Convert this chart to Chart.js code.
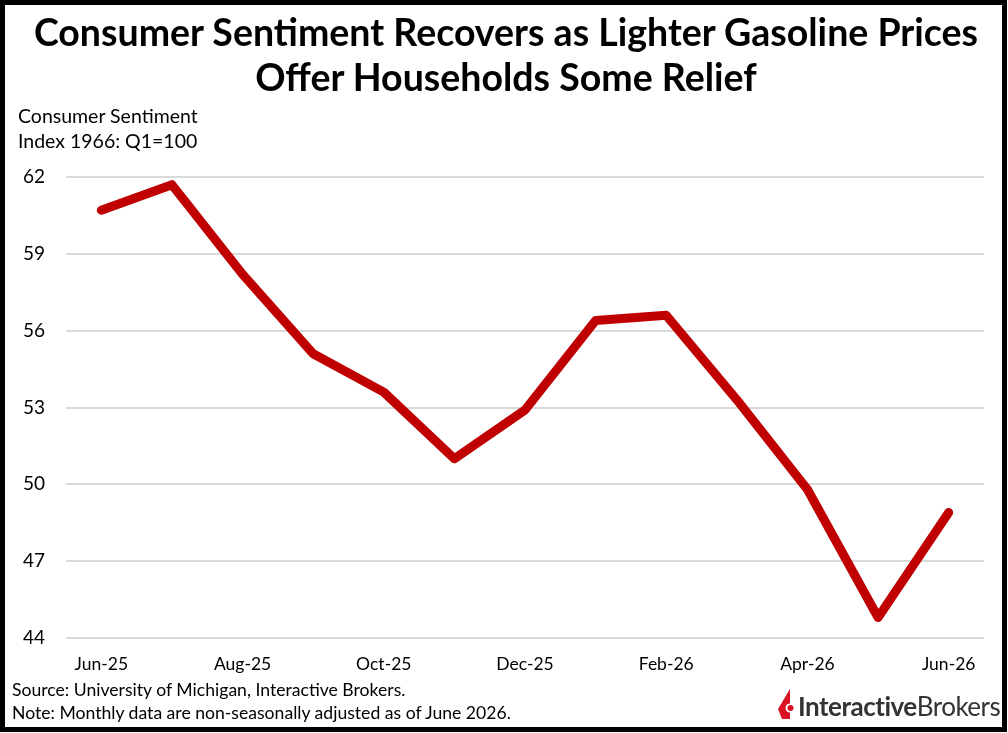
<!DOCTYPE html>
<html>
<head>
<meta charset="utf-8">
<script src="https://cdn.jsdelivr.net/npm/chart.js@4"></script>
<style>
  body { margin: 0; background: #fff; font-family: Lato, "Open Sans", sans-serif; }
  #frame { position: absolute; left: 0; top: 0; width: 1007px; height: 732px; box-sizing: border-box; border: 5px solid #000; }
  #wrap { position: absolute; left: 0; top: 0; width: 1008px; height: 733px; }
  .txt { position: absolute; color: #000; white-space: nowrap; }
  #title { left: 0; width: 1012px; top: 9px; text-align: center; font-weight: bold; font-size: 37.5px; line-height: 45px; }
  #ylab { left: 18px; top: 103px; font-size: 19.5px; line-height: 25px; }
  #foot { left: 12px; top: 678px; font-size: 17.6px; line-height: 23px; }
  #logo { left: 778px; top: 689px; font-size: 26px; color: #333; letter-spacing: -0.5px; }
  #logo svg { vertical-align: -3px; margin-right: 2px; }
</style>
</head>
<body>
<div id="wrap"><canvas id="chart1" width="1008" height="733"></canvas></div>
<div class="txt" id="title">Consumer Sentiment Recovers as Lighter Gasoline Prices<br>Offer Households Some Relief</div>
<div class="txt" id="ylab">Consumer Sentiment<br>Index 1966: Q1=100</div>
<div class="txt" id="foot">Source: University of Michigan, Interactive Brokers.<br>Note: Monthly data are non-seasonally adjusted as of June 2026.</div>
<div class="txt" id="logo"><svg width="18" height="30" viewBox="0 0 18 30"><polygon points="12,0 0,20 4,30 12,30" fill="#d81222"/><circle cx="12" cy="19" r="4.5" fill="#fff"/><circle cx="12.5" cy="19" r="3" fill="#d81222"/></svg><b>Interactive</b>Brokers</div>
<div id="frame"></div>
<script>
// University of Michigan consumer sentiment, monthly
const months = ["Jun-25", "Jul-25", "Aug-25", "Sep-25", "Oct-25", "Nov-25", "Dec-25",
                "Jan-26", "Feb-26", "Mar-26", "Apr-26", "May-26", "Jun-26"];
const sentiment = [60.7, 61.7, 58.2, 55.1, 53.6, 51.0, 52.9, 56.4, 56.6, 53.3, 49.8, 44.8, 48.9];
const yMin = 44;
const yMax = 62;
const yStep = 3;

new Chart("chart1", {
    type: "line",
    data: {
        labels: months,
        datasets: [{
            data: sentiment,
            borderColor: "#c00000",
            backgroundColor: "rgba(0,0,0,0)",
            borderWidth: 9,
            borderCapStyle: "round",
            borderJoinStyle: "round",
            pointRadius: 0,
            tension: 0
        }]
    },
    options: {
        responsive: false,
        animation: false,
        layout: { padding: { left: 0, right: 24, top: 177, bottom: 55 } },
        plugins: { legend: { display: false }, tooltip: { enabled: false } },
        scales: {
            x: {
                offset: true,
                grid: { display: false },
                border: { display: false },
                afterFit: s => { s.height = 40; },
                ticks: {
                    autoSkip: false,
                    maxRotation: 0,
                    padding: 8,
                    color: "#000",
                    font: { family: "Lato", size: 17.5 },
                    callback: function (v, i) { return i % 2 === 0 ? months[i] : ""; }
                }
            },
            y: {
                min: yMin,
                max: yMax,
                grid: { color: "#d9d9d9", lineWidth: 2, drawTicks: false },
                border: { display: false },
                afterFit: s => { s.width = 66; },
                ticks: {
                    stepSize: yStep,
                    padding: 21,
                    color: "#000",
                    font: { family: "Lato", size: 19 }
                }
            }
        }
    }
});
</script>
</body>
</html>
